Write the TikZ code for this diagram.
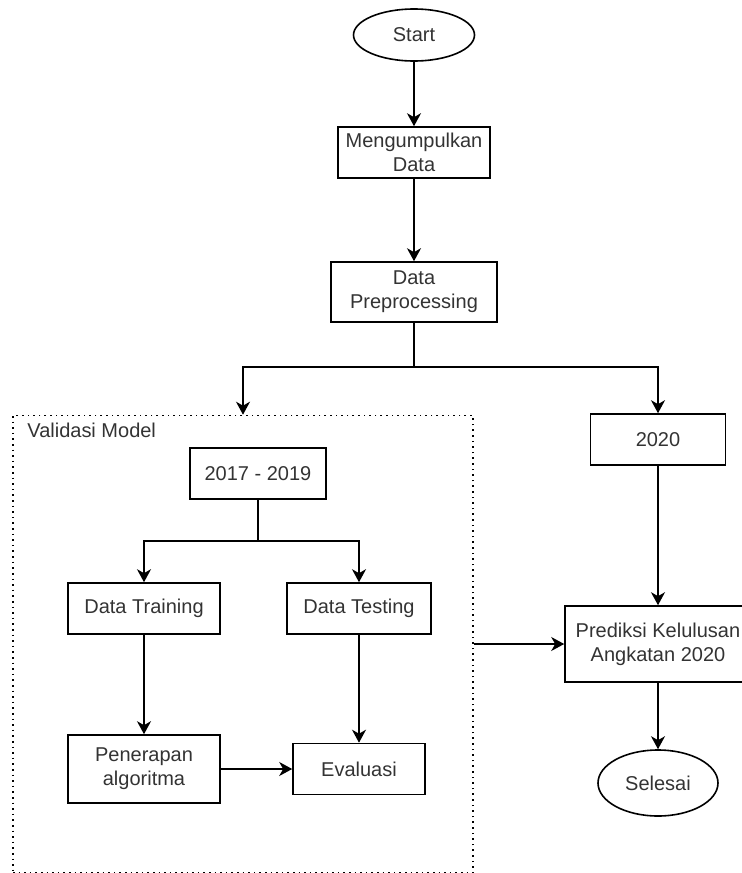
\documentclass[tikz,border=0pt]{standalone}
\usepackage{fontspec}
\setmainfont{Liberation Sans}
\usepackage{tikz}
\usetikzlibrary{arrows.meta,shapes.geometric}

\begin{document}
\begin{tikzpicture}[
  x=0.5pt, y=-0.5pt,
  every node/.style={font=\fontsize{10}{12}\selectfont, text=black!80},
  stage/.style={draw, line width=0.8pt, align=center, inner sep=2pt, minimum height=25.5pt},
  terminal/.style={draw, ellipse, line width=0.8pt, inner sep=0pt, minimum width=60.5pt, minimum height=26pt},
  group/.style={draw, dotted, line width=0.8pt, minimum width=230pt, minimum height=228.5pt},
  flow/.style={-{Stealth[length=6.5pt,width=7pt,inset=2pt]}, line width=0.8pt}
]
  \useasboundingbox (0,0) rectangle (742,873);

  \node[terminal] (start) at (414,35) {Start};
  \node[stage, minimum width=76pt] (collect) at (414,152.5) {Mengumpulkan\\Data};
  \node[stage, minimum width=83pt, minimum height=30pt] (prep) at (414,292) {Data\\Preprocessing};

  \node[group] (valid) at (243,644) {};
  \node[anchor=west, inner sep=0pt] (validlbl) at (27,430) {Validasi Model};
  \node[stage, minimum width=68pt] (years) at (258,473.5) {2017 - 2019};
  \node[stage, minimum width=76pt] (train) at (144,608.5) {Data Training};
  \node[stage, minimum width=72pt] (test) at (359,608.5) {Data Testing};
  \node[stage, minimum width=76pt, minimum height=34pt] (algo) at (144,769) {Penerapan\\algoritma};
  \node[stage, minimum width=66pt] (eval) at (359,769) {Evaluasi};

  \node[stage, minimum width=67.5pt] (y2020) at (658,439.5) {2020};
  \node[stage, minimum width=93pt, minimum height=38pt] (predict) at (658,644) {Prediksi Kelulusan\\Angkatan 2020};
  \node[terminal, minimum width=60pt, minimum height=33pt] (finish) at (658,783) {Selesai};

  \coordinate (split) at (414,367);
  \coordinate (branch) at (258,541);

  \draw[flow] (start) -- (collect);
  \draw[flow] (collect) -- (prep);
  \draw[flow] (prep.south) -- (split) -| (valid.north);
  \draw[flow] (split) -| (y2020.north);
  \draw[flow] (years.south) -- (branch) -| (train.north);
  \draw[flow] (branch) -| (test.north);
  \draw[flow] (train) -- (algo);
  \draw[flow] (test) -- (eval);
  \draw[flow] (algo) -- (eval);
  \draw[flow] (valid.east) -- (predict.west);
  \draw[flow] (y2020) -- (predict);
  \draw[flow] (predict) -- (finish);
\end{tikzpicture}
\end{document}
